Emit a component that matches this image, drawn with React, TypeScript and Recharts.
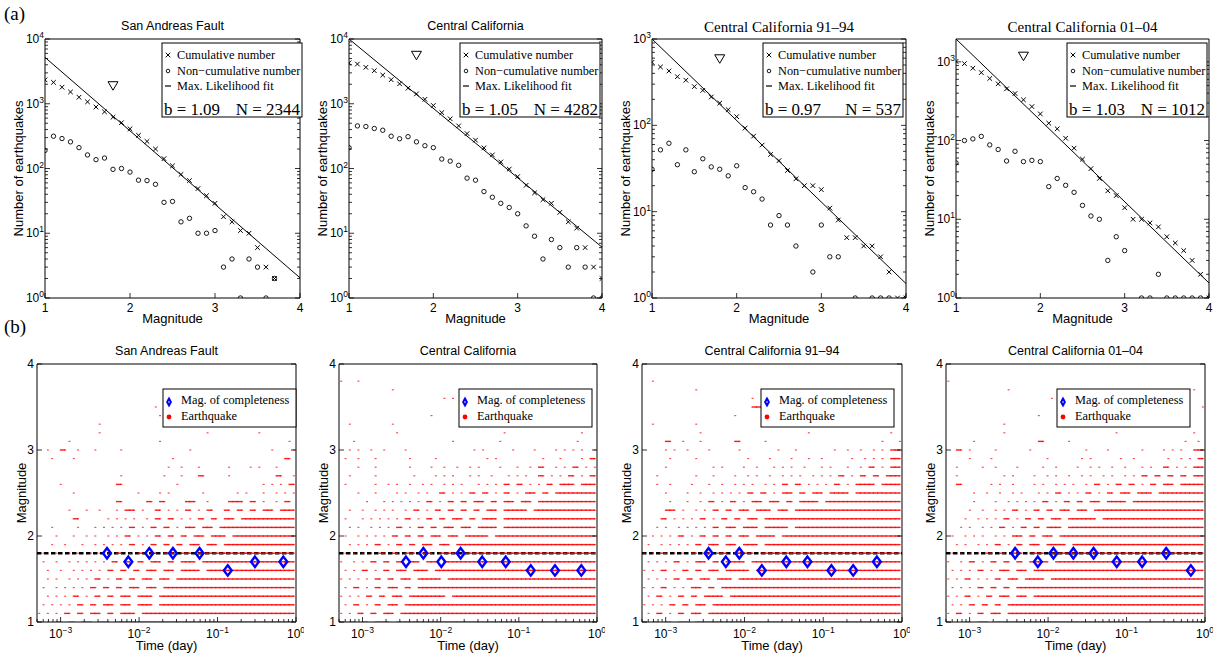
import React from "react";
import { ComposedChart, Scatter, XAxis, YAxis, ReferenceLine } from "recharts";

const SANS = "'Liberation Sans', Arial, Helvetica, sans-serif";
const SERIF = "'Liberation Serif', 'Times New Roman', Times, serif";

// ---- (a) frequency-magnitude distributions, 0.1 bins ----
const magBins = [1.0, 1.1, 1.2, 1.3, 1.4, 1.5, 1.6, 1.7, 1.8, 1.9, 2.0, 2.1, 2.2, 2.3, 2.4, 2.5, 2.6, 2.7, 2.8, 2.9, 3.0, 3.1, 3.2, 3.3, 3.4, 3.5, 3.6, 3.7, 3.8, 3.9, 4.0];

const safCumulative = [2344, 2140, 1800, 1520, 1260, 1070, 890, 750, 620, 510, 410, 325, 262, 200, 142, 110, 81, 65, 49, 38, 29, 18, 15, 11, 10, 6, 3, 2, null, null, null];
const safNonCumulative = [190, 315, 290, 258, 210, 162, 137, 145, 97, 100, 88, 66, 65, 57, 30, 31, 15, 17, 10, 10, 11, 3, 4, 1, 4, 3, 1, 2, null, null, null];
const ccCumulative = [4282, 4100, 3650, 3240, 2770, 2350, 2030, 1740, 1420, 1170, 940, 730, 585, 455, 346, 274, 208, 162, 126, 98, 75, 55, 42, 33, 29, 21, 15, 12, 6, 3, 2];
const ccNonCumulative = [210, 455, 445, 415, 390, 315, 288, 310, 258, 225, 210, 140, 130, 112, 71, 66, 44, 36, 29, 25, 20, 13, 9, 4, 8, 6, 3, 6, 3, 1, 1];
const cc91Cumulative = [537, 474, 426, 366, 333, 281, 254, 213, 181, 152, 126, 93, 75, 59, 46, 39, 30, 24, 20, 20, 18, 11, 8, 5, 5, 4, 4, 3, 2, 1, 1];
const cc91NonCumulative = [31, 52, 62, 35, 52, 29, 41, 33, 31, 26, 34, 19, 17, 14, 7, 9, 7, 4, null, 2, 7, 3, 3, null, 1, null, 1, 1, 1, null, 1];
const cc01Cumulative = [1012, 950, 830, 730, 614, 526, 454, 396, 329, 270, 218, 166, 141, 107, 80, 58, 44, 33, 23, 20, 14, 10, 10, 9, 8, 6, 5, 4, 3, 2, 1];
const cc01NonCumulative = [52, 100, 105, 113, 88, 77, 55, 73, 54, 56, 54, 26, 33, 27, 22, 15, 11, 10, 3, 6, 4, null, 1, 1, 2, 1, 1, 1, 1, 1, 1];

// max. likelihood fit, value at M=1 and at M=4
const safFit = [5200, 2.05];
const ccFit = [10000, 6.1];
const cc91Fit = [1000, 1.47];
const cc01Fit = [1950, 1.55];

// completeness triangle
const mcMag = 1.8;
const mcMarkerCounts = [1900, 5600, 590, 1180];

// ---- (b) magnitude of completeness vs time ----
const overallMc = 1.8;
const safMcTime = [0.0039, 0.0073, 0.0135, 0.027, 0.059, 0.135, 0.3, 0.69];
const safMcMag = [1.8, 1.7, 1.8, 1.8, 1.8, 1.6, 1.7, 1.7];
const ccMcTime = [0.0036, 0.006, 0.0102, 0.018, 0.034, 0.068, 0.142, 0.29, 0.63];
const ccMcMag = [1.7, 1.8, 1.7, 1.8, 1.7, 1.7, 1.6, 1.6, 1.6];
const cc91McTime = [0.0035, 0.0058, 0.0086, 0.0166, 0.034, 0.063, 0.127, 0.24, 0.48];
const cc91McMag = [1.8, 1.7, 1.8, 1.6, 1.7, 1.7, 1.6, 1.6, 1.7];
const cc01McTime = [0.0038, 0.0074, 0.0117, 0.021, 0.038, 0.075, 0.158, 0.32, 0.66];
const cc01McMag = [1.8, 1.7, 1.8, 1.8, 1.8, 1.7, 1.7, 1.8, 1.6];

// earthquakes: one string per magnitude row (3.9 ... 1.0),
// one char per 0.055-decade time bin from 10^-3.3 to 10^0 ("x" = events in that bin)
const quakeMags = [3.9, 3.8, 3.7, 3.6, 3.5, 3.4, 3.3, 3.2, 3.1, 3.0, 2.9, 2.8, 2.7, 2.6, 2.5, 2.4, 2.3, 2.2, 2.1, 2.0, 1.9, 1.8, 1.7, 1.6, 1.5, 1.4, 1.3, 1.2, 1.1, 1.0];
const LOG_T0 = -3.3;
const BIN = 0.055;

const safQuakes = [
  "",
  "",
  "",
  "",
  ".......... .......... .......x",
  ".......... .......... ........x",
  ".......... ....x",
  ".......... ....x..... .......... .........x .......... .x",
  ".......x.. .......... ........x. .......... .......... ........x.",
  "..x..xx..x ...x.....x .......... .....x.... .......... ....x....x",
  "...x....x. .......... .......... .x........ .......... .......xx.",
  ".......... .......... .......... x..x...x.. ....x....x .x...x....",
  ".......... .........x .........x ...x...xx. ....x..... .....xx..x",
  ".....x.... ........xx .......... ..x....... .......... ..x.x.x.xx",
  "........x. .......... ...x....x. x.......x. ......x.x. ..x..x.x.x",
  ".......... ........xx .....xx.xx ....xxx..x ....xxxx.x x.x..x.xx.",
  ".......x.. .x..x...x. xxx.x..xx. x.x.xx.x.x x..xx.xx.x x.xxx.xxxx",
  "........xx ......x.x. x.x..x.xx. xx.x.x.xx. xx.xxx.xxx xxxxxxxxxx",
  "...x.....x ...x.x.x.x .xx.x.xx.x x.x.xxx.xx x.xxxxxxxx xxxxxxxxxx",
  "....x...x. .x.x..x.x. xx.x.x.xx. xx.xx.xxx. xxxx.xxxxx xxxxxxxxxx",
  "...x..x... x..x.x.x.x .xx.x.xx.x x.xx.xxx.x xx.xxxxxxx xxxxxxxxxx",
  ".x..x..x.x ..x.x.x.xx .x.xx.xx.x xx.xxx.xxx xxxxxxxxxx xxxxxxxxxx",
  ".x..x..x.x .x.x.x.xx. xx.xx.xxx. xx.xxxx.xx xxxxxxxxxx xxxxxxxxxx",
  "..x..x..x. x.x.x.xx.x x.xx.xxx.x xx.xxxxx.x xxxxxxxxxx xxxxxxxxxx",
  "..x.x..x.x .x.xx.x.xx .xx.xxx.xx x.xxxxxxxx xxxxxxxxxx xxxxxxxxxx",
  ".x..x.x.x. x.xx.xx.xx .xxx.xxx.x xxxxxxxxxx xxxxxxxxxx xxxxxxxxxx",
  "..x.x.x.xx .x.xx.xx.x xx.xxxx.xx xxxxxxxxxx xxxxxxxxxx xxxxxxxxxx",
  ".x.x.x.x.x x.xx.xxx.x xx.xxxx.xx xxxxxxxxxx xxxxxxxxxx xxxxxxxxxx",
  "x.x.x.xx.x x.xxx.xx.x xxx.xxxxxx xxxxxxxxxx xxxxxxxxxx xxxxxxxxxx",
  "x.x.xx.xx. xxx.xxx.xx xxxxxxxxxx xxxxxxxxxx xxxxxxxxxx xxxxxxxxxx",
];

const ccQuakes = [
  "",
  "x...x",
  ".......... ..x",
  ".......... .......... ....x.x",
  ".......... .......... .......... .......... .......... ........x.",
  ".......... .......... .x",
  "..x....... ..x",
  ".......... ...x...... .......... ........x. .......... ......x...",
  "...x...... .......... ......x... .......x.. .......... .....x....",
  "..x.x..x.. x....x.... .......... .x.x...... x....x.... x.x.x.x..x",
  ".x..x...x. ......x... ..x....... ....x.x... .......x.. .x....x.xx",
  "....x...x. ......x... .x..x..x.. x.x....x.. .x..x.xx.. x.x.xx.x.x",
  "..x.....x. .......x.. ..x.x.x... x.x..x...x .x.x..xx.x .x.xx.x.xx",
  ".x......x. .x.x..x..x .x..x.x.x. ..x.x.x.xx .xx.x.x.xx .xxxx.xxxx",
  "....x...x. ...x.x..x. x..xx.x.x. xx.xx.x.xx .x.xxx.xx. xxxxxxxxxx",
  "......x... x.x.x.x.x. xx.x.xx.xx .xxx.xx.xx x.xxx.xxxx xxxxxxxxxx",
  "..x..x..x. x.x..x.xx. x.xx.xx.xx .xx.xxx.xx xxxx.xxxxx xxxxxxxxxx",
  ".x...x.x.x .x.x.xx.x. xx.xx.xxx. xx.xxxx.xx xxxxxxxxxx xxxxxxxxxx",
  "..x.x..x.x .x.xx.x.xx .xx.xxx.xx x.xxxxx.xx xxxxxxxxxx xxxxxxxxxx",
  ".x..x.x.x. x.xx.xx.xx .xxx.xxx.x xxxxx.xxxx xxxxxxxxxx xxxxxxxxxx",
  "..x.x.x.xx .x.xx.xx.x xx.xxx.xxx xxxxxxxxxx xxxxxxxxxx xxxxxxxxxx",
  ".x.x.x.x.x x.xx.xxx.x xx.xxxxx.x xxxxxxxxxx xxxxxxxxxx xxxxxxxxxx",
  "x..x.x.xx. xx.xx.xxx. xxx.xxxxxx xxxxxxxxxx xxxxxxxxxx xxxxxxxxxx",
  ".x.x.xx.x. xx.xxx.xxx x.xxxxxxxx xxxxxxxxxx xxxxxxxxxx xxxxxxxxxx",
  "x.x.x.x.xx .xx.xxx.xx xxxx.xxxxx xxxxxxxxxx xxxxxxxxxx xxxxxxxxxx",
  ".x.xx.x.xx .xxx.xx.xx xxxxxxxxxx xxxxxxxxxx xxxxxxxxxx xxxxxxxxxx",
  "x.x.x.xx.x x.xxx.xxxx xxxxx.xxxx xxxxxxxxxx xxxxxxxxxx xxxxxxxxxx",
  ".x.xx.x.xx .xxx.xxxxx xxxxxxxxxx xxxxxxxxxx xxxxxxxxxx xxxxxxxxxx",
  "x.x.xx.xx. xxx.xxxxxx xxxxxxxxxx xxxxxxxxxx xxxxxxxxxx xxxxxxxxxx",
  "x.xx.xx.xx xx.xxxxxxx xxxxxxxxxx xxxxxxxxxx xxxxxxxxxx xxxxxxxxxx",
];

const cc91Quakes = [
  "",
  "..x",
  ".......... ..x....... .......... .......... .......... .....x",
  ".......... .......... .....x",
  ".......... .......... .....xxx",
  ".......... .......... .x",
  "..x....... ..x",
  ".......... ...x...... .......... ........x. .......... .......x..",
  ".....xx..x ...x...... .xx.....x. .......... .......... .....x...x",
  ".....x.x.. x....x.... ..x....... .x...x.... ....x..x.. x..x.x.xxx",
  "......x... ..x....... ....x....x ....x...x. .x......x. .x.x.x.xxx",
  ".....x.... ......x.x. ...x..x... x.x.x..x.. .x.x...x.. x.xx.x.xxx",
  "...x...... ..x...x... .x..x.x..x ..x.x.x..x .x.x.xx.x. xx.xx.xxxx",
  "...x..x... .x...x..x. .x.x.x..x. x.xx.xx.x. x.x.xx.x.x xxxx.xxxxx",
  ".....x.... x..x..x.x. x.x.xx.xx. x.xxx.xx.x xx.xxxxx.x xxxxxxxxxx",
  "......x... x..x.xx.x. xx.x.xxx.x xx.xx.xxxx x.xxxxxxxx xxxxxxxxxx",
  ".....xxx.x ..x.x.xx.x x.xxx.xxxx .xxx.xxxxx xxxxxxxxxx xxxxxxxxxx",
  "....xx.x.x .x.xx.x.xx .xx.xxx.xx xxxxxxxxxx xxxxxxxxxx xxxxxxxxxx",
  "...x.x..x. x.x.x.xx.x xx.xxxx.xx xxxx.xxxxx xxxxxxxxxx xxxxxxxxxx",
  "..x.x.x.xx .x.xx.xx.x x.xxx.xxxx x.xxxxxxxx xxxxxxxxxx xxxxxxxxxx",
  ".x..x.x.x. x.xx.xxx.x xx.xxxx.xx xxxxxxxxxx xxxxxxxxxx xxxxxxxxxx",
  "x.x.xx.x.x .xx.xx.xxx .xxxxx.xxx xxxxxxxxxx xxxxxxxxxx xxxxxxxxxx",
  ".x.x.x.xx. x.xxx.xx.x xxxx.xxxxx xxxxxxxxxx xxxxxxxxxx xxxxxxxxxx",
  "x.x.xx.x.x x.xx.xxx.x xxxxx.xxxx xxxxxxxxxx xxxxxxxxxx xxxxxxxxxx",
  ".x.x.x.xx. xx.xxx.xxx x.xxxxxxxx xxxxxxxxxx xxxxxxxxxx xxxxxxxxxx",
  "x.x.xx.x.x .xxx.xx.xx xxxxxxxxxx xxxxxxxxxx xxxxxxxxxx xxxxxxxxxx",
  ".x.xx.x.xx .xx.xxxxx. xxxxxxxxxx xxxxxxxxxx xxxxxxxxxx xxxxxxxxxx",
  "x.x.x.xx.x x.xxx.xxxx xxxxxxxxxx xxxxxxxxxx xxxxxxxxxx xxxxxxxxxx",
  ".x.xx.x.xx .xxx.xxxxx xxxxxxxxxx xxxxxxxxxx xxxxxxxxxx xxxxxxxxxx",
  "x.xx.xx.xx x.xxxxxxxx xxxxxxxxxx xxxxxxxxxx xxxxxxxxxx xxxxxxxxxx",
];

const cc01Quakes = [
  "",
  "x",
  ".......... ....x..... .......... .......... .......... .......x",
  ".......... .......... ....x",
  ".......... .......... .......... .......... .......... .........x",
  ".......... .......... .x",
  ".......... ...x",
  ".......... ...x...... .......... .........x .......... .......x..",
  "......x... .......... .xx.....x. .......... .......... .....x..x.",
  "..xx.x.... .x.......x .......... ..x....x.. .....x.... x.x.x..xxx",
  ".....x.... x......... ...x...... .x.x...... x..x...... .x..x.x.xx",
  "..x.....x. .x....x... ..x..x.... x..x.x..x. .x...x.x.. xx.x.x.xxx",
  "..x....... ...x.x.... x..x.x..x. .x.x..x.x. .x.x.xx.xx .xx.xx.xxx",
  "..xx...... x.x..x.... x.x..x.x.x ..x.xx.x.x x.xx.x.xx. xxx.xxxxxx",
  "......x..x ..x..x.x.. .x.x.xx.x. x.xx.x.xx. xxx.xxxx.x xxxxxxxxxx",
  "......x... .x..x.x.x. x.xx.x.xx. xx.xxx.xxx xx.xxxxxxx xxxxxxxxxx",
  ".....x..x. .x.x.xx.x. xx.xx.xxx. xxx.xxxxxx xxxxxxxxxx xxxxxxxxxx",
  "....x..x.x .x.xx.x.xx .xx.xxx.xx xxxxx.xxxx xxxxxxxxxx xxxxxxxxxx",
  "...x.x..x. x.xx.x.xx. xx.xxxx.xx xxxxxxxxxx xxxxxxxxxx xxxxxxxxxx",
  ".x..x.x.x. .x.x.xxx.x x.xxx.xxxx xxxxxxxxxx xxxxxxxxxx xxxxxxxxxx",
  "..x.x..x.x .xx.x.xx.x xx.xxxxx.x xxxxxxxxxx xxxxxxxxxx xxxxxxxxxx",
  ".x.x.x.x.x x.xx.xxx.x xxx.xxxxxx xxxxxxxxxx xxxxxxxxxx xxxxxxxxxx",
  "x..x.xx.x. xx.xx.xx.x xxxx.xxxxx xxxxxxxxxx xxxxxxxxxx xxxxxxxxxx",
  ".x.x.x.xx. x.xxx.xxx. xxxxxxxxxx xxxxxxxxxx xxxxxxxxxx xxxxxxxxxx",
  "x.x.xx.x.x .xx.xxx.xx xxx.xxxxxx xxxxxxxxxx xxxxxxxxxx xxxxxxxxxx",
  ".x.x.x.xx. xx.xx.xxxx xxxxxxxxxx xxxxxxxxxx xxxxxxxxxx xxxxxxxxxx",
  "x.x.xx.x.x x.xxx.xxx. xxxxxxxxxx xxxxxxxxxx xxxxxxxxxx xxxxxxxxxx",
  ".x.x.xx.xx .xx.xxxxxx xxxxxxxxxx xxxxxxxxxx xxxxxxxxxx xxxxxxxxxx",
  "x.xx.x.xx. xxx.xxxxxx xxxxxxxxxx xxxxxxxxxx xxxxxxxxxx xxxxxxxxxx",
  "x.x.xx.xxx .xxxxxxxxx xxxxxxxxxx xxxxxxxxxx xxxxxxxxxx xxxxxxxxxx",
];

// ---- helpers ----
const pairs = (vals: (number | null)[]) =>
  magBins.map((m, i) => ({ m, n: vals[i] })).filter((p) => p.n != null);

const zipTime = (ts: number[], ms: number[]) => ts.map((t, i) => ({ t, m: ms[i] }));

function parseQuakes(rows: string[]) {
  const pts: { t: number; m: number; joined: boolean }[] = [];
  rows.forEach((row, i) => {
    const cells = row.replace(/ /g, "");
    for (let c = 0; c < cells.length; c++) {
      if (cells[c] === "x")
        pts.push({ t: Math.pow(10, LOG_T0 + (c + 0.5) * BIN), m: quakeMags[i], joined: cells[c + 1] === "x" });
    }
  });
  return pts;
}

function logTicks(lo: number, hi: number) {
  const out: number[] = [];
  for (let e = Math.floor(Math.log10(lo)) - 1; e <= Math.ceil(Math.log10(hi)); e++) {
    for (let k = 1; k <= 9; k++) {
      const v = +(k * Math.pow(10, e)).toPrecision(4);
      if (v >= lo * 0.999 && v <= hi * 1.001) out.push(v);
    }
  }
  return out;
}
const isDecade = (v: number) => Math.abs(Math.log10(v) - Math.round(Math.log10(v))) < 1e-6;

const GAP = 4;
type Side = "bottom" | "top" | "left" | "right";

function makeTick(side: Side, mode: "none" | "plain" | "pow", log: boolean) {
  return function Tick(props: any) {
    const { x, y, payload } = props;
    const v = payload.value as number;
    const major = !log || isDecade(v);
    const len = major ? 5 : 3;
    let l: number[];
    let x0 = x;
    let y0 = y;
    if (side === "bottom") { y0 = y - GAP; l = [x, y0, x, y0 - len]; }
    else if (side === "top") { y0 = y + GAP; l = [x, y0, x, y0 + len]; }
    else if (side === "left") { x0 = x + GAP; l = [x0, y, x0 + len, y]; }
    else { x0 = x - GAP; l = [x0, y, x0 - len, y]; }
    let label = null;
    if (mode !== "none" && major) {
      const e = Math.round(Math.log10(v));
      const content =
        mode === "pow" ? (
          <>
            10<tspan dy={-5} fontSize={8.5}>{e < 0 ? "\u2212" + -e : e}</tspan>
          </>
        ) : (
          String(v)
        );
      if (side === "bottom") {
        label = (
          <text x={x} y={y0 + (mode === "pow" ? 16 : 14)} textAnchor="middle" fontSize={12} fontFamily={SANS} fill="#000">
            {content}
          </text>
        );
      } else {
        label = (
          <text x={x0 - (mode === "pow" ? 1 : 3)} y={y + 4} textAnchor="end" fontSize={12} fontFamily={SANS} fill="#000">
            {content}
          </text>
        );
      }
    }
    return (
      <g>
        <line x1={l[0]} y1={l[1]} x2={l[2]} y2={l[3]} stroke="#000" strokeWidth={0.8} />
        {label}
      </g>
    );
  };
}

const XMark = (p: any) => (
  <path d={`M${p.cx - 2.3},${p.cy - 2.3}L${p.cx + 2.3},${p.cy + 2.3}M${p.cx - 2.3},${p.cy + 2.3}L${p.cx + 2.3},${p.cy - 2.3}`} stroke="#000" strokeWidth={1} fill="none" />
);
const CircleMark = (p: any) => <circle cx={p.cx} cy={p.cy} r={2.2} stroke="#000" strokeWidth={0.9} fill="none" />;
const TriangleMark = (p: any) => (
  <path d={`M${p.cx - 5},${p.cy - 4}L${p.cx + 5},${p.cy - 4}L${p.cx},${p.cy + 4.5}Z`} stroke="#000" strokeWidth={1} fill="none" />
);
const DiamondMark = (p: any) => (
  <path d={`M${p.cx},${p.cy - 5.2}L${p.cx + 3.9},${p.cy}L${p.cx},${p.cy + 5.2}L${p.cx - 3.9},${p.cy}Z`} stroke="#0000ff" strokeWidth={2.4} fill="none" />
);
// a run of occupied bins is drawn as one continuous red streak, an isolated bin as a small dot
const QuakeDot = (p: any) =>
  p.payload && p.payload.joined ? (
    <rect x={p.cx - 1} y={p.cy - 0.7} width={5.4} height={1.4} fill="#ff0000" fillOpacity={0.9} />
  ) : (
    <rect x={p.cx - 1} y={p.cy - 0.6} width={2} height={1.2} fill="#ff0000" fillOpacity={0.7} />
  );

// ---- layout ----
const TOP_Y = 39;
const TOP_H = 259;
const BOT_Y = 364;
const BOT_H = 258;

const topPanels = [
  { title: "San Andreas Fault", serif: false, x: 45, w: 255, yMax: 10000, cum: safCumulative, non: safNonCumulative, fit: safFit, mc: mcMarkerCounts[0], b: "1.09", n: "2344", lx: 162 },
  { title: "Central California", serif: false, x: 349, w: 253, yMax: 10000, cum: ccCumulative, non: ccNonCumulative, fit: ccFit, mc: mcMarkerCounts[1], b: "1.05", n: "4282", lx: 460 },
  { title: "Central California  91\u201394", serif: true, x: 652, w: 254, yMax: 1000, cum: cc91Cumulative, non: cc91NonCumulative, fit: cc91Fit, mc: mcMarkerCounts[2], b: "0.97", n: "537", lx: 763 },
  { title: "Central California 01\u201304", serif: true, x: 956, w: 253, yMax: 1950, cum: cc01Cumulative, non: cc01NonCumulative, fit: cc01Fit, mc: mcMarkerCounts[3], b: "1.03", n: "1012", lx: 1067 },
];

const bottomPanels = [
  { title: "San Andreas Fault", x: 37, w: 259, quakes: safQuakes, mc: zipTime(safMcTime, safMcMag), lx: 163 },
  { title: "Central California", x: 339, w: 258, quakes: ccQuakes, mc: zipTime(ccMcTime, ccMcMag), lx: 459 },
  { title: "Central California 91\u201394", x: 642, w: 260, quakes: cc91Quakes, mc: zipTime(cc91McTime, cc91McMag), lx: 761 },
  { title: "Central California 01\u201304", x: 946, w: 259, quakes: cc01Quakes, mc: zipTime(cc01McTime, cc01McMag), lx: 1057 },
];

const axisLine = { stroke: "#000", strokeWidth: 1 };

function TopPanel({ cfg }: { cfg: (typeof topPanels)[number] }) {
  const W = cfg.w + 53;
  const H = TOP_H + 54;
  const yTicks = logTicks(1, cfg.yMax);
  const magTicks = [1, 2, 3, 4];
  return (
    <div style={{ position: "absolute", left: cfg.x - 45, top: TOP_Y - 20 }}>
      <ComposedChart width={W} height={H} margin={{ top: 15, right: 3, bottom: 0, left: 0 }}>
        <XAxis dataKey="m" type="number" domain={[1, 4]} ticks={magTicks} height={34} tickSize={0} tickMargin={GAP} tickLine={false} interval={0} axisLine={axisLine} tick={makeTick("bottom", "plain", false)} allowDataOverflow />
        <XAxis xAxisId="top" orientation="top" type="number" domain={[1, 4]} ticks={magTicks} height={5} tickSize={0} tickMargin={GAP} tickLine={false} interval={0} axisLine={axisLine} tick={makeTick("top", "none", false)} allowDataOverflow />
        <YAxis dataKey="n" type="number" scale="log" domain={[1, cfg.yMax]} ticks={yTicks} width={45} tickSize={0} tickMargin={GAP} tickLine={false} interval={0} axisLine={axisLine} tick={makeTick("left", "pow", true)} allowDataOverflow />
        <YAxis yAxisId="right" orientation="right" type="number" scale="log" domain={[1, cfg.yMax]} ticks={yTicks} width={5} tickSize={0} tickMargin={GAP} tickLine={false} interval={0} axisLine={axisLine} tick={makeTick("right", "none", true)} allowDataOverflow />
        <ReferenceLine segment={[{ x: 1, y: cfg.fit[0] }, { x: 4, y: cfg.fit[1] }]} stroke="#000" strokeWidth={1} />
        <Scatter data={pairs(cfg.non)} shape={CircleMark} isAnimationActive={false} />
        <Scatter data={pairs(cfg.cum)} shape={XMark} isAnimationActive={false} />
        <Scatter data={[{ m: mcMag, n: cfg.mc }]} shape={TriangleMark} isAnimationActive={false} />
      </ComposedChart>
    </div>
  );
}

function BottomPanel({ cfg }: { cfg: (typeof bottomPanels)[number] }) {
  const W = cfg.w + 48;
  const H = BOT_H + 55;
  const tTicks = logTicks(0.0005, 1);
  const mTicks = [1, 2, 3, 4];
  return (
    <div style={{ position: "absolute", left: cfg.x - 40, top: BOT_Y - 20 }}>
      <ComposedChart width={W} height={H} margin={{ top: 15, right: 3, bottom: 0, left: 0 }}>
        <XAxis dataKey="t" type="number" scale="log" domain={[0.0005, 1]} ticks={tTicks} height={35} tickSize={0} tickMargin={GAP} tickLine={false} interval={0} axisLine={axisLine} tick={makeTick("bottom", "pow", true)} allowDataOverflow />
        <XAxis xAxisId="top" orientation="top" type="number" scale="log" domain={[0.0005, 1]} ticks={tTicks} height={5} tickSize={0} tickMargin={GAP} tickLine={false} interval={0} axisLine={axisLine} tick={makeTick("top", "none", true)} allowDataOverflow />
        <YAxis dataKey="m" type="number" domain={[1, 4]} ticks={mTicks} width={40} tickSize={0} tickMargin={GAP} tickLine={false} interval={0} axisLine={axisLine} tick={makeTick("left", "plain", false)} allowDataOverflow />
        <YAxis yAxisId="right" orientation="right" type="number" domain={[1, 4]} ticks={mTicks} width={5} tickSize={0} tickMargin={GAP} tickLine={false} interval={0} axisLine={axisLine} tick={makeTick("right", "none", false)} allowDataOverflow />
        <Scatter data={parseQuakes(cfg.quakes)} shape={QuakeDot} isAnimationActive={false} />
        <ReferenceLine y={overallMc} stroke="#000" strokeWidth={2.5} strokeDasharray="4.5 2.5" />
        <Scatter data={cfg.mc} shape={DiamondMark} isAnimationActive={false} />
      </ComposedChart>
    </div>
  );
}

function Overlay() {
  return (
    <svg width={1215} height={657} style={{ position: "absolute", left: 0, top: 0, pointerEvents: "none" }}>
      <text x={4} y={20} fontFamily={SERIF} fontSize={19}>(a)</text>
      <text x={4} y={333} fontFamily={SERIF} fontSize={19}>(b)</text>
      {topPanels.map((p, i) => {
        const cx = p.x + p.w / 2;
        const bx = p.lx;
        const by = TOP_Y + 4;
        return (
          <g key={"t" + i}>
            <text x={cx} y={p.serif ? 32 : 30} textAnchor="middle" fontFamily={p.serif ? SERIF : SANS} fontSize={p.serif ? 15 : 12.5}>{p.title}</text>
            <text x={cx} y={TOP_Y + TOP_H + 25} textAnchor="middle" fontFamily={SANS} fontSize={13}>Magnitude</text>
            <text transform={`translate(${p.x - 27},${TOP_Y + TOP_H / 2}) rotate(-90)`} textAnchor="middle" dominantBaseline="central" fontFamily={SANS} fontSize={13}>Number of earthquakes</text>
            <rect x={bx} y={by} width={140} height={74} fill="#fff" stroke="#000" strokeWidth={1} />
            <XMark cx={bx + 6} cy={by + 12} />
            <text x={bx + 15} y={by + 16} fontFamily={SERIF} fontSize={12.3}>Cumulative number</text>
            <circle cx={bx + 6} cy={by + 28} r={1.8} stroke="#000" strokeWidth={0.9} fill="none" />
            <text x={bx + 15} y={by + 32} fontFamily={SERIF} fontSize={12.3}>Non{"\u2212"}cumulative number</text>
            <line x1={bx + 3} x2={bx + 9} y1={by + 43} y2={by + 43} stroke="#000" strokeWidth={1.2} />
            <text x={bx + 15} y={by + 47} fontFamily={SERIF} fontSize={12.3}>Max. Likelihood fit</text>
            <text x={bx + 2} y={by + 72} fontFamily={SERIF} fontSize={17} textLength={56} lengthAdjust="spacingAndGlyphs">b  = {p.b}</text>
            <text x={bx + 138} y={by + 72} textAnchor="end" fontFamily={SERIF} fontSize={17}>N = {p.n}</text>
          </g>
        );
      })}
      {bottomPanels.map((p, i) => {
        const cx = p.x + p.w / 2;
        const bx = p.lx;
        const by = 389;
        return (
          <g key={"b" + i}>
            <text x={cx} y={BOT_Y - 9} textAnchor="middle" fontFamily={SANS} fontSize={12.5}>{p.title}</text>
            <text x={cx} y={BOT_Y + BOT_H + 28} textAnchor="middle" fontFamily={SANS} fontSize={13}>Time (day)</text>
            <text transform={`translate(${p.x - 16},${BOT_Y + BOT_H / 2}) rotate(-90)`} textAnchor="middle" dominantBaseline="central" fontFamily={SANS} fontSize={13}>Magnitude</text>
            <rect x={bx} y={by} width={133} height={38} fill="#fff" stroke="#000" strokeWidth={1} />
            <path d={`M${bx + 6},${by + 7.5}L${bx + 9},${by + 13}L${bx + 6},${by + 18.5}L${bx + 3},${by + 13}Z`} fill="#0000ff" />
            <circle cx={bx + 6} cy={by + 13} r={0.9} fill="#aab" />
            <text x={bx + 18} y={by + 15} fontFamily={SERIF} fontSize={12.3}>Mag. of completeness</text>
            <circle cx={bx + 6} cy={by + 28} r={2.4} fill="#ff0000" />
            <text x={bx + 18} y={by + 31} fontFamily={SERIF} fontSize={12.3}>Earthquake</text>
          </g>
        );
      })}
    </svg>
  );
}

export default function App() {
  return (
    <div style={{ position: "absolute", left: 0, top: 0, width: 1215, height: 657, background: "#fff", overflow: "hidden" }}>
      {topPanels.map((p, i) => (
        <TopPanel key={i} cfg={p} />
      ))}
      {bottomPanels.map((p, i) => (
        <BottomPanel key={i} cfg={p} />
      ))}
      <Overlay />
    </div>
  );
}
